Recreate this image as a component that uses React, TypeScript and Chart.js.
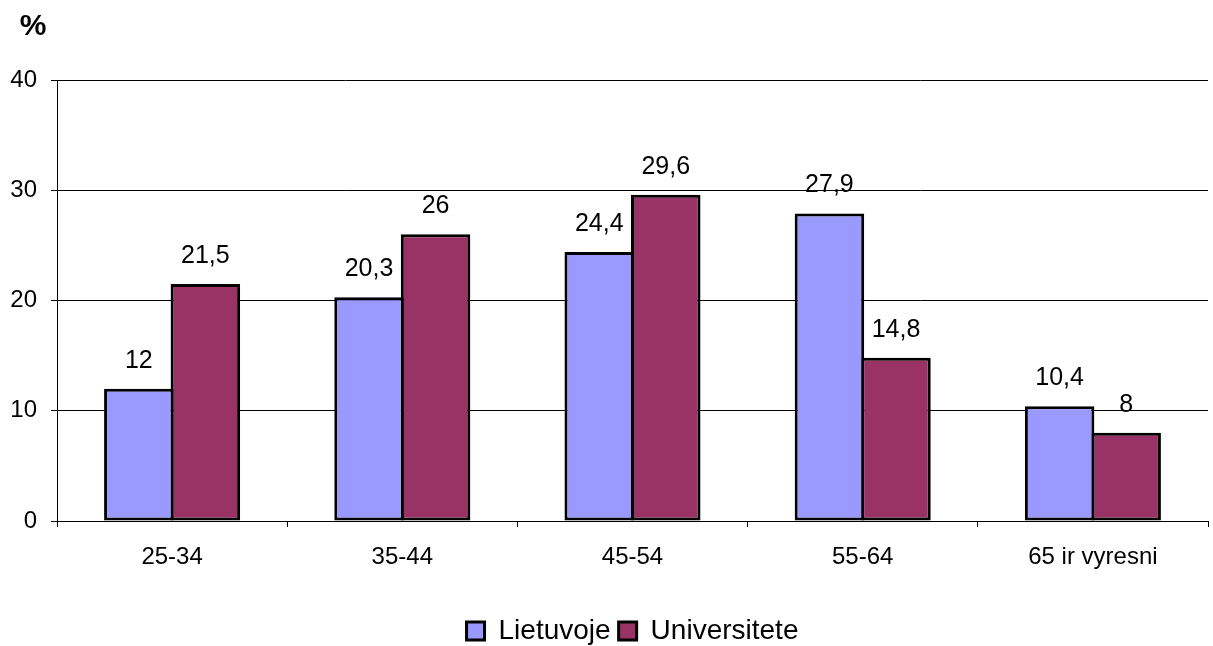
import React, { useEffect, useRef } from "react";
import { Chart, registerables } from "chart.js";

Chart.register(...registerables);

const categories = ["25-34", "35-44", "45-54", "55-64", "65 ir vyresni"];
const lietuvoje = [12, 20.3, 24.4, 27.9, 10.4];
const universitete = [21.5, 26, 29.6, 14.8, 8];
const seriesNames = ["Lietuvoje", "Universitete"];
const yTicks = [0, 10, 20, 30, 40];
const unitLabel = "%";

const FONT = "'Liberation Sans', Arial, sans-serif";

const fmt = (v: number) => String(v).replace(".", ",");

const labelsPlugin = {
  id: "barLabels",
  afterDatasetsDraw(chart: any) {
    const ctx = chart.ctx;
    ctx.save();
    ctx.font = `25px ${FONT}`;
    ctx.fillStyle = "#000";
    ctx.textAlign = "center";
    ctx.textBaseline = "alphabetic";
    chart.data.datasets.forEach((ds: any, di: number) => {
      const meta = chart.getDatasetMeta(di);
      meta.data.forEach((bar: any, i: number) => {
        ctx.fillText(fmt(ds.data[i]), bar.x, bar.y - 21);
      });
    });
    ctx.font = `bold 30px ${FONT}`;
    ctx.textAlign = "center";
    ctx.textBaseline = "middle";
    ctx.fillText(unitLabel, 33, 27);
    ctx.restore();
  },
};

export default function App() {
  const ref = useRef<HTMLCanvasElement>(null);
  useEffect(() => {
    document.body.style.margin = "0";
    const common = {
      borderColor: "#000",
      borderWidth: 3,
      borderSkipped: false,
      categoryPercentage: 0.578,
      barPercentage: 1.045,
    };
    const chart = new Chart(ref.current!, {
      type: "bar",
      data: {
        labels: categories,
        datasets: [
          { label: seriesNames[0], data: lietuvoje, backgroundColor: "#9999FF", ...common },
          { label: seriesNames[1], data: universitete, backgroundColor: "#993366", ...common },
        ],
      },
      options: {
        responsive: false,
        animation: false,
        devicePixelRatio: 1,
        layout: { padding: { top: 80, right: 5, left: 0, bottom: -9 } },
        plugins: {
          legend: {
            position: "bottom",
            fullSize: false,
            labels: {
              font: { family: FONT, size: 28, lineHeight: 1 },
              color: "#000",
              boxWidth: 18,
              boxHeight: 18,
              padding: 8,
            },
          },
          tooltip: { enabled: false },
        },
        scales: {
          x: {
            grid: {
              offset: true,
              drawOnChartArea: false,
              color: "#000",
              tickLength: 6,
            },
            border: { color: "#000", width: 1 },
            ticks: {
              font: { family: FONT, size: 24 },
              color: "#000",
              padding: 16,
              maxRotation: 0,
            },
            afterFit: (s: any) => {
              s.height = 88;
            },
          },
          y: {
            min: 0,
            max: 40,
            afterBuildTicks: (s: any) => {
              s.ticks = yTicks.map((v) => ({ value: v }));
            },
            grid: { color: "#000", lineWidth: 1, tickLength: 6 },
            border: { color: "#000", width: 1 },
            ticks: {
              font: { family: FONT, size: 24 },
              color: "#000",
              padding: 14,
            },
            afterFit: (s: any) => {
              s.width = 57;
            },
          },
        },
      },
      plugins: [labelsPlugin],
    });
    return () => chart.destroy();
  }, []);
  return (
    <div style={{ width: 1213, height: 646 }}>
      <canvas ref={ref} width={1213} height={646} />
    </div>
  );
}
